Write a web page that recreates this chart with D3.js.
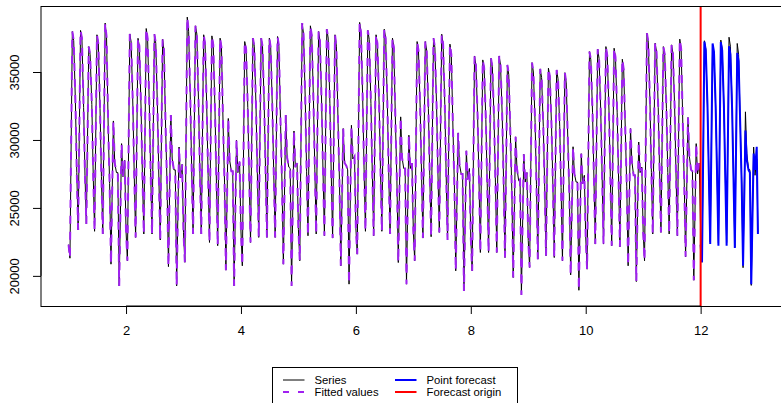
<!DOCTYPE html>
<html>
<head>
<meta charset="utf-8">
<script src="https://cdn.jsdelivr.net/npm/d3@7"></script>
<style>
  body { margin: 0; background: #fff; }
  svg { display: block; }
  text { font-family: "Liberation Sans", Arial, Helvetica, sans-serif; fill: #000; }
</style>
</head>
<body>
<svg id="chart" width="781" height="403"></svg>
<script>
// Half-hourly electricity demand, 12 weeks (weekly frequency), one reading set per day.
// Hours of the day at which each daily reading sits.
const readingHours = [0, 4, 11, 15, 20];

// Series, days 0..83 (Monday first), values in MW
const midnight = [
  22300, 27600, 27400, 27500, 27300, 26800, 27600,
  23300, 27400, 27300, 27600, 27200, 26700, 27800,
  23200, 27800, 27500, 27400, 27200, 26900, 27700,
  23300, 27300, 27500, 27600, 27400, 26900, 27900,
  23400, 27700, 27800, 27600, 27500, 27000, 27800,
  23500, 27800, 27600, 27700, 27600, 27000, 27900,
  23300, 27500, 27400, 27500, 27400, 26700, 27500,
  22800, 26900, 26800, 26900, 26800, 26300, 27100,
  22600, 26700, 26600, 26700, 26500, 26200, 26900,
  22900, 27200, 27300, 27300, 27200, 26600, 27400,
  23200, 27600, 27700, 27600, 27500, 26900, 27700,
  23300, 27500, 27600, 27500, 27400, 26900, 27800
];
const trough = [
  21300, 23380, 23820, 23280, 23080, 20860, 19260,
  21110, 22830, 23080, 23080, 22640, 20680, 19260,
  21000, 23080, 23080, 22460, 22220, 20420, 19260,
  20740, 22460, 22830, 22830, 22830, 20860, 19260,
  21110, 22950, 23080, 22950, 22780, 20740, 19390,
  21600, 23280, 22950, 23280, 23080, 20980, 19390,
  21110, 22780, 22880, 23200, 22640, 20370, 18890,
  20370, 21720, 21720, 21720, 21350, 19880, 18600,
  20620, 21230, 21480, 21350, 21110, 20070, 18940,
  20490, 22340, 22340, 22220, 22140, 20740, 19580,
  21110, 23080, 23200, 23080, 22950, 21400, 19680,
  21000, 22500, 22400, 22450, 22100, 20600, 19300
];
const peak = [
  37980, 38060, 36870, 37740, 38600, 31400, 29730,
  37800, 37480, 38200, 37780, 37400, 31830, 29480,
  39040, 38400, 37740, 37660, 37490, 31580, 29980,
  37240, 37490, 37490, 37490, 37610, 31830, 30660,
  38600, 38400, 37980, 38150, 37740, 30840, 31080,
  38650, 38060, 37740, 38150, 37490, 31700, 30350,
  37240, 37240, 37490, 37780, 37050, 30520, 29200,
  36180, 35890, 36010, 36180, 35520, 30230, 28940,
  35690, 35230, 35280, 35150, 34950, 29500, 28990,
  36500, 36680, 36870, 36750, 35940, 30840, 29850,
  37860, 37120, 36870, 37000, 37420, 31650, 29730,
  37300, 36900, 37350, 37560, 37100, 32070, 29480
];
const afternoon = [
  37300, 37500, 36300, 37100, 37600, 28300, 27300,
  37200, 36900, 37500, 37100, 36600, 28600, 27200,
  38000, 37800, 37100, 37000, 36800, 28500, 27600,
  36700, 36900, 36900, 36800, 36900, 28700, 28000,
  37800, 37700, 37300, 37500, 36900, 28300, 28600,
  37900, 37400, 37100, 37500, 36800, 28700, 27900,
  36600, 36600, 36800, 37100, 36300, 28200, 27100,
  35500, 35300, 35400, 35500, 34800, 27900, 26900,
  35000, 34600, 34700, 34500, 34200, 27500, 26800,
  35900, 36000, 36200, 36100, 35200, 28400, 27600,
  37200, 36500, 36300, 36400, 36700, 28800, 27500,
  36700, 36300, 36700, 36900, 36300, 29000, 27400
];
const evening = [
  32800, 32400, 32600, 32300, 30800, 27600, 28500,
  32500, 32300, 32700, 32200, 30600, 27800, 28200,
  33000, 32800, 32400, 32300, 30900, 27700, 28400,
  32400, 32500, 32600, 32200, 31000, 28000, 28300,
  33000, 32900, 32600, 32700, 31200, 28100, 28800,
  33000, 32700, 32600, 32800, 31000, 27900, 28300,
  32400, 32300, 32500, 32600, 30700, 27500, 27900,
  31700, 31500, 31600, 31700, 30200, 27000, 27600,
  31300, 31000, 31100, 31000, 29800, 26900, 27400,
  32000, 32100, 32200, 32000, 30500, 27400, 28000,
  32600, 32400, 32300, 32400, 31100, 27800, 28300,
  32400, 32300, 32500, 32600, 31000, 27900, 28600
];
const seriesLast = 23200;   // Sunday 23:30 of the final week

// Point forecast for the holdout week (days 77..83)
const forecastMidnight  = [22300, 27400, 27500, 27400, 27300, 26800, 27600];
const forecastTrough    = [21000, 22340, 22220, 22220, 22050, 20740, 19390];
const forecastPeak      = [37240, 37100, 37200, 36900, 36400, 30700, 29000];
const forecastAfternoon = [36600, 36500, 36600, 36300, 35800, 28500, 27800];
const forecastEvening   = [32600, 32400, 32500, 32300, 30900, 27800, 29500];
const forecastLast = 23080;

const fittedDays = 77;      // in-sample part: weeks 1..11
const forecastOrigin = 12;
const xTicks = [2, 4, 6, 8, 10, 12];
const yTicks = [20000, 25000, 30000, 35000];
const legendItems = ["Series", "Fitted values", "Point forecast", "Forecast origin"];

// ---- build point lists (time measured in weeks, starting at 1)
const tOf = (day, hour) => 1 + (day + hour / 24) / 7;
const dailyArrays = [midnight, trough, peak, afternoon, evening];
const forecastArrays = [forecastMidnight, forecastTrough, forecastPeak, forecastAfternoon, forecastEvening];

const series = [];
for (let d = 0; d < midnight.length; d++)
  readingHours.forEach((h, k) => series.push({ t: tOf(d, h), v: dailyArrays[k][d] }));
series.push({ t: tOf(midnight.length - 1, 23.5), v: seriesLast });

const fitted = series.filter(p => p.t < forecastOrigin);

const forecast = [];
for (let i = 0; i < forecastMidnight.length; i++)
  readingHours.forEach((h, k) => forecast.push({ t: tOf(fittedDays + i, h), v: forecastArrays[k][i] }));
forecast.push({ t: tOf(fittedDays + forecastMidnight.length - 1, 23.5), v: forecastLast });

// ---- scales (R-style 4% padding)
const plot = { left: 41, right: 785.5, top: 6, bottom: 306 };
const allPts = series.concat(forecast);
const tExt = d3.extent(allPts, p => p.t);
const vExt = d3.extent(allPts, p => p.v);
const tPad = (tExt[1] - tExt[0]) * 0.04, vPad = (vExt[1] - vExt[0]) * 0.04;

const x = d3.scaleLinear().domain([tExt[0] - tPad, tExt[1] + tPad]).range([plot.left, plot.right]);
const y = d3.scaleLinear().domain([vExt[0] - vPad, vExt[1] + vPad]).range([plot.bottom, plot.top]);

const svg = d3.select("#chart");
svg.append("defs").append("clipPath").attr("id", "plotClip")
  .append("rect").attr("x", plot.left).attr("y", plot.top)
  .attr("width", plot.right - plot.left).attr("height", plot.bottom - plot.top);

const line = d3.line().x(p => x(p.t)).y(p => y(p.v));
const g = svg.append("g").attr("clip-path", "url(#plotClip)");

g.append("path").datum(series).attr("d", line)
  .attr("fill", "none").attr("stroke", "#000").attr("stroke-width", 1);
g.append("path").datum(fitted).attr("d", line)
  .attr("fill", "none").attr("stroke", "#A020F0").attr("stroke-width", 2)
  .attr("stroke-dasharray", "8,8");
g.append("path").datum(forecast).attr("d", line)
  .attr("fill", "none").attr("stroke", "#0000FF").attr("stroke-width", 2);
g.append("line")
  .attr("x1", x(forecastOrigin)).attr("x2", x(forecastOrigin))
  .attr("y1", plot.top).attr("y2", plot.bottom)
  .attr("stroke", "#FF0000").attr("stroke-width", 2);

// ---- box
svg.append("rect")
  .attr("x", plot.left).attr("y", plot.top + 0.5)
  .attr("width", plot.right - plot.left).attr("height", plot.bottom - plot.top)
  .attr("fill", "none").attr("stroke", "#000").attr("stroke-width", 1);

// ---- axes
const xAxis = d3.axisBottom(x).tickValues(xTicks).tickSize(8).tickPadding(12).tickFormat(d3.format("d"));
const xg = svg.append("g").attr("transform", `translate(0,${plot.bottom})`).call(xAxis);
xg.select(".domain").attr("d", `M${x(xTicks[0])},0H${x(xTicks[xTicks.length - 1])}`).attr("stroke", "#000");
xg.selectAll("text").attr("font-size", 13).attr("font-family", '"Liberation Sans", Arial, sans-serif');

const yAxis = d3.axisLeft(y).tickValues(yTicks).tickSize(8).tickFormat(d3.format("d"));
const yg = svg.append("g").attr("transform", `translate(${plot.left},0)`).call(yAxis);
yg.select(".domain").attr("d", `M0,${y(yTicks[0])}V${y(yTicks[yTicks.length - 1])}`).attr("stroke", "#000");
yg.selectAll("text")
  .attr("font-size", 13).attr("font-family", '"Liberation Sans", Arial, sans-serif')
  .attr("text-anchor", "middle").attr("dy", null).attr("x", null)
  .attr("transform", function () { return "translate(-22,0) rotate(-90)"; })
  .attr("dy", "0em");

// ---- legend
const lg = svg.append("g");
lg.append("rect").attr("x", 272.5).attr("y", 367.5).attr("width", 245).attr("height", 44)
  .attr("fill", "#fff").attr("stroke", "#000").attr("stroke-width", 1);
const legendStyle = [
  { col: 0, row: 0, stroke: "#000", w: 1, dash: null },
  { col: 0, row: 1, stroke: "#A020F0", w: 2, dash: "6,9" },
  { col: 1, row: 0, stroke: "#0000FF", w: 2, dash: null },
  { col: 1, row: 1, stroke: "#FF0000", w: 2, dash: null }
];
legendItems.forEach((label, i) => {
  const s = legendStyle[i];
  const lx = 283 + s.col * 112, ly = 380 + s.row * 12;
  lg.append("line").attr("x1", lx).attr("x2", lx + 21.5).attr("y1", ly).attr("y2", ly)
    .attr("stroke", s.stroke).attr("stroke-width", s.w).attr("stroke-dasharray", s.dash);
  lg.append("text").attr("x", lx + 31.5).attr("y", ly + 4).attr("font-size", 11.3).text(label);
});
</script>
</body>
</html>
